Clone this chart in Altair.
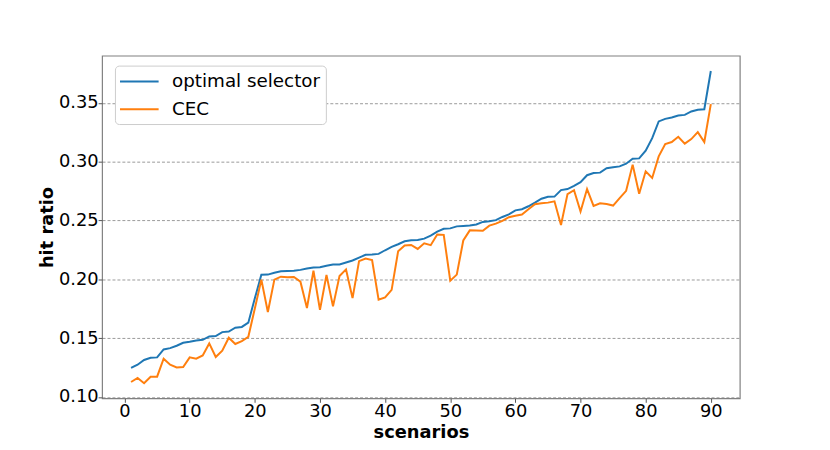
import altair as alt
import pandas as pd

scenarios = list(range(1, 91))

optimal_selector = [
    0.1246, 0.1274, 0.1314, 0.1333, 0.1336, 0.1404, 0.1415, 0.1435, 0.1460, 0.1469,
    0.1480, 0.1486, 0.1514, 0.1517, 0.1551, 0.1556, 0.1589, 0.1595, 0.1631, 0.1838,
    0.2038, 0.2040, 0.2056, 0.2068, 0.2070, 0.2072, 0.2080, 0.2092, 0.2101, 0.2102,
    0.2115, 0.2126, 0.2126, 0.2143, 0.2160, 0.2185, 0.2208, 0.2211, 0.2216, 0.2247,
    0.2275, 0.2298, 0.2323, 0.2332, 0.2335, 0.2346, 0.2371, 0.2405, 0.2430, 0.2433,
    0.2450, 0.2454, 0.2458, 0.2466, 0.2488, 0.2494, 0.2503, 0.2530, 0.2552, 0.2586,
    0.2596, 0.2621, 0.2652, 0.2685, 0.2702, 0.2703, 0.2758, 0.2767, 0.2795, 0.2826,
    0.2885, 0.2904, 0.2907, 0.2945, 0.2953, 0.2960, 0.2983, 0.3025, 0.3028, 0.3093,
    0.3200, 0.3342, 0.3364, 0.3376, 0.3393, 0.3398, 0.3427, 0.3441, 0.3446, 0.3771,
]

cec = [
    0.1127, 0.1161, 0.1116, 0.1172, 0.1172, 0.1325, 0.1274, 0.1251, 0.1254, 0.1336,
    0.1325, 0.1353, 0.1455, 0.1339, 0.1393, 0.1503, 0.1450, 0.1475, 0.1511, 0.1752,
    0.1997, 0.1722, 0.1997, 0.2022, 0.2017, 0.2020, 0.1980, 0.1756, 0.2073, 0.1740,
    0.2037, 0.1770, 0.2028, 0.2084, 0.1840, 0.2154, 0.2177, 0.2163, 0.1826, 0.1846,
    0.1910, 0.2239, 0.2287, 0.2292, 0.2258, 0.2306, 0.2290, 0.2380, 0.2378, 0.1988,
    0.2040, 0.2330, 0.2416, 0.2415, 0.2413, 0.2456, 0.2473, 0.2497, 0.2528, 0.2540,
    0.2551, 0.2596, 0.2638, 0.2646, 0.2652, 0.2663, 0.2462, 0.2725, 0.2758, 0.2576,
    0.2767, 0.2624, 0.2646, 0.2640, 0.2627, 0.2690, 0.2752, 0.2975, 0.2727, 0.2918,
    0.2862, 0.3045, 0.3150, 0.3167, 0.3212, 0.3153, 0.3192, 0.3251, 0.3167, 0.3489,
]

series_names = ["optimal selector", "CEC"]
series_colors = ["#1f77b4", "#ff7f0e"]

x_ticks = [0, 10, 20, 30, 40, 50, 60, 70, 80, 90]
y_ticks = [0.10, 0.15, 0.20, 0.25, 0.30, 0.35]

df = pd.DataFrame(
    {
        "scenario": scenarios * 2,
        "hit": optimal_selector + cec,
        "series": [series_names[0]] * len(scenarios) + [series_names[1]] * len(scenarios),
    }
)

FONT = "DejaVu Sans"

chart = (
    alt.Chart(df)
    .mark_line(strokeWidth=2)
    .encode(
        x=alt.X(
            "scenario:Q",
            scale=alt.Scale(domain=[-3.45, 94.45], nice=False, zero=False),
            axis=alt.Axis(values=x_ticks, title="scenarios", grid=False, format="d",
                          labelPadding=0.5, titlePadding=3.5),
        ),
        y=alt.Y(
            "hit:Q",
            scale=alt.Scale(domain=[0.0988, 0.3901], nice=False, zero=False),
            axis=alt.Axis(values=y_ticks, title="hit ratio", format=".2f", grid=True,
                          labelPadding=0, titlePadding=1.5),
        ),
        color=alt.Color(
            "series:N",
            scale=alt.Scale(domain=series_names, range=series_colors),
            sort=series_names,
            legend=alt.Legend(
                title=None,
                orient="none",
                legendX=13,
                legendY=10,
                symbolType="M-2,0H2",
                symbolSize=380,
                symbolStrokeWidth=2,
                symbolOffset=8.6,
                labelOffset=22,
                labelFontSize=18.5,
                labelFont=FONT,
                labelColor="#000000",
                padding=5,
                rowPadding=7,
                strokeColor="#cccccc",
                fillColor="#ffffff",
                cornerRadius=4,
            ),
        ),
        detail="series:N",
        order="scenario:Q",
    )
    .properties(
        width=644,
        height=346,
        autosize=alt.AutoSizeParams(type="none"),
        padding={"left": 95, "top": 46, "right": 83, "bottom": 50},
    )
    .configure_view(stroke="#808080", strokeWidth=1.2)
    .configure_axis(
        labelFont=FONT,
        labelFontSize=18,
        labelColor="#000000",
        titleFont=FONT,
        titleFontSize=18,
        titleFontWeight="bold",
        titleColor="#000000",
        domain=False,
        tickColor="#555555",
        tickSize=4,
        gridColor="#808080",
        gridDash=[3, 2],
        gridWidth=0.8,
    )
)

chart.save("out.html", embed_options={"renderer": "svg", "actions": False})
